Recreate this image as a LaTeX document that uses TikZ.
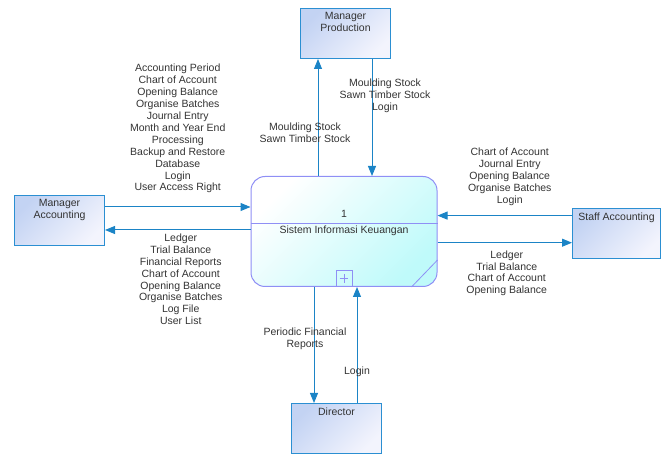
\documentclass[tikz,border=0pt]{standalone}
\usepackage{fontspec}
\setmainfont{Liberation Sans}
\usetikzlibrary{arrows.meta}

\definecolor{flowblue}{HTML}{1B84C6}
\definecolor{entline}{HTML}{2B8FD2}
\definecolor{entdark}{HTML}{C3D3F3}
\definecolor{entlight}{HTML}{F3F4FD}
\definecolor{procline}{HTML}{8F8FF5}
\definecolor{proccyan}{HTML}{BFFAFA}

\tikzset{
  lbl/.style={align=center, font=\fontsize{10.5}{11.9}\selectfont, text=black!80},
  entity/.style={draw=entline, line width=1pt, top color=entdark, bottom color=entlight,
    shading angle=45, minimum width=90pt, minimum height=50pt, anchor=north west},
  flow/.style={draw=flowblue, line width=1pt, -{Triangle[length=10pt,width=8pt]}},
}

\begin{document}
\begin{tikzpicture}[x=1pt,y=1pt]
\useasboundingbox (0,0) rectangle (662,453);

% External entities
\node[entity, label={[lbl,anchor=north,yshift=-1pt]north:Manager\\Accounting}] (ma) at (14,258) {};
\node[entity, label={[lbl,anchor=north,yshift=-1pt]north:Manager\\Production}] (mp) at (300,445) {};
\node[entity, minimum width=88pt, label={[lbl,anchor=north,yshift=-1pt]north:Staff Accounting}] (sa) at (572,245) {};
\node[entity, label={[lbl,anchor=north,yshift=-1pt]north:Director}] (dir) at (291,50) {};

% Process
\node[draw=procline, line width=1pt, rounded corners=14pt, top color=white, bottom color=proccyan,
  shading angle=45, minimum width=186pt, minimum height=110pt] (proc) at (344,221.5) {};
\draw[procline, line width=0.8pt] (proc.west |- 0,230) -- (proc.east |- 0,230);
\node[lbl] (pnum) at (344,239) {1};
\node[lbl] (pname) at (344,222) {Sistem Informasi Keuangan};
\node[draw=procline, line width=0.8pt, minimum size=16pt, inner sep=0pt, anchor=south] (sub) at (proc.south) {};
\draw[procline, line width=0.8pt] ([yshift=-4pt]sub.north) -- ([yshift=4pt]sub.south);
\draw[procline, line width=0.8pt] ([xshift=4pt]sub.west) -- ([xshift=-4pt]sub.east);
\draw[procline, line width=0.8pt] ([xshift=-26pt]proc.south east) -- ([yshift=27pt]proc.south east);

% Data flows with Manager Accounting
\draw[flow] (ma.east |- 0,246) -- (proc.west |- 0,246)
  node[lbl, midway, above=10pt] {Accounting Period\\Chart of Account\\Opening Balance\\Organise Batches\\Journal Entry\\Month and Year End\\Processing\\Backup and Restore\\Database\\Login\\User Access Right};
\draw[flow] (proc.west |- 0,223) -- (ma.east |- 0,223)
  node[lbl, midway, below, xshift=3pt] {Ledger\\Trial Balance\\Financial Reports\\Chart of Account\\Opening Balance\\Organise Batches\\Log File\\User List};

% Data flows with Staff Accounting
\draw[flow] (sa.west |- 0,237.4) -- (proc.east |- 0,237.4)
  node[lbl, midway, above=6pt, xshift=5pt] {Chart of Account\\Journal Entry\\Opening Balance\\Organise Batches\\Login};
\draw[flow] (proc.east |- 0,210.3) -- (sa.west |- 0,210.3)
  node[lbl, midway, below=4pt, xshift=2pt] {Ledger\\Trial Balance\\Chart of Account\\Opening Balance};

% Data flows with Manager Production
\draw[flow] (proc.north -| 318,0) -- (mp.south -| 318,0);
\node[lbl] (mplbl) at (305,320) {Moulding Stock\\Sawn Timber Stock};
\draw[flow] (mp.south -| 372,0) -- (proc.north -| 372,0);
\node[lbl] (proclbl) at (385,357) {Moulding Stock\\Sawn Timber Stock\\Login};

% Data flows with Director
\draw[flow] (proc.south -| 314,0) -- (dir.north -| 314,0);
\node[lbl] (dirlbl) at (305,114.5) {Periodic Financial\\Reports};
\draw[flow] (dir.north -| 357,0) -- (proc.south -| 357,0);
\node[lbl] (loglbl) at (357,81.5) {Login};

\end{tikzpicture}
\end{document}
